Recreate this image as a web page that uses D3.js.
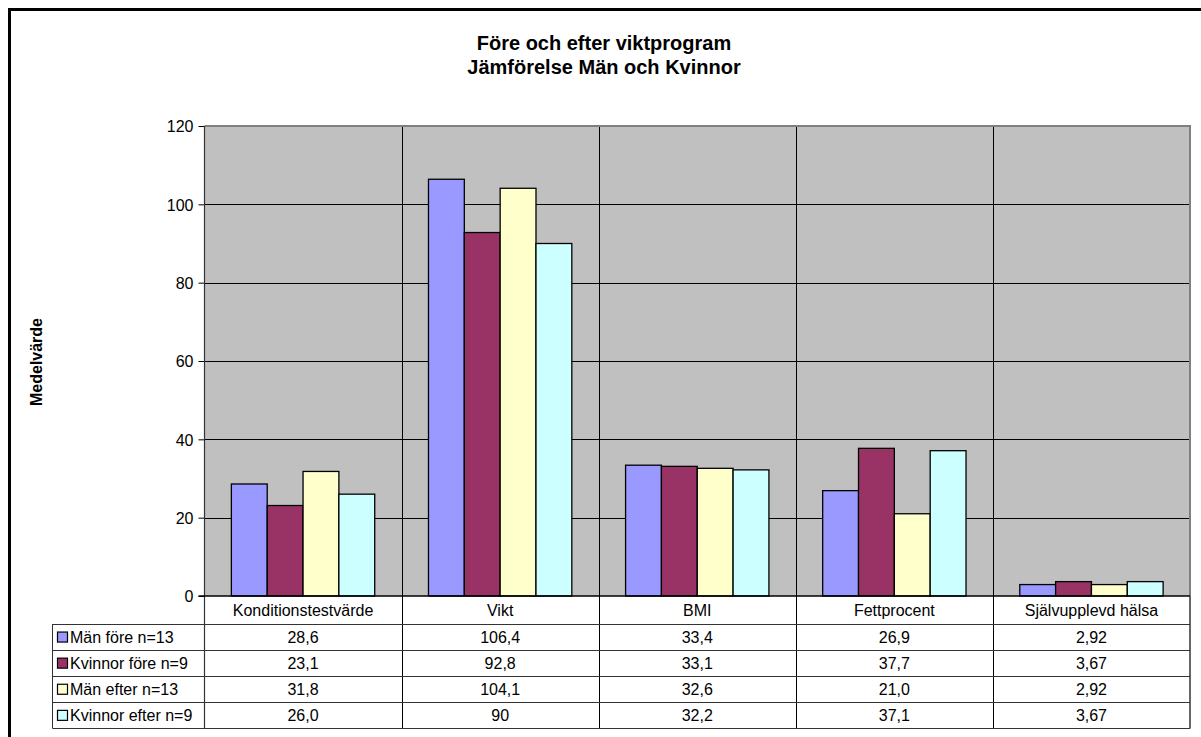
<!DOCTYPE html>
<html>
<head>
<meta charset="utf-8">
<script src="https://cdn.jsdelivr.net/npm/d3@7"></script>
<style>
  html, body { margin: 0; padding: 0; background: #fff; }
  svg { display: block; font-family: "Liberation Sans", Arial, Helvetica, sans-serif; }
</style>
</head>
<body>
<svg id="chart" width="1201" height="737"></svg>
<script>
// Mean values before and after the weight programme, men vs women
const categories = ["Konditionstestvärde", "Vikt", "BMI", "Fettprocent", "Självupplevd hälsa"];
const seriesNames = ["Män före n=13", "Kvinnor före n=9", "Män efter n=13", "Kvinnor efter n=9"];
const manFore     = [28.6, 106.4, 33.4, 26.9, 2.92];
const kvinnorFore = [23.1, 92.8, 33.1, 37.7, 3.67];
const manEfter    = [31.8, 104.1, 32.6, 21.0, 2.92];
const kvinnorEfter = [26.0, 90, 32.2, 37.1, 3.67];
// Text shown in the data table under the plot
const tableLabels = [
  ["28,6", "106,4", "33,4", "26,9", "2,92"],
  ["23,1", "92,8", "33,1", "37,7", "3,67"],
  ["31,8", "104,1", "32,6", "21,0", "2,92"],
  ["26,0", "90", "32,2", "37,1", "3,67"]
];
const yTicks = [0, 20, 40, 60, 80, 100, 120];
const seriesColors = ["#9999FF", "#993366", "#FFFFCC", "#CCFFFF"];
const titleLines = ["Före och efter viktprogram", "Jämförelse Män och Kvinnor"];
const yTitle = "Medelvärde";

const seriesValues = [manFore, kvinnorFore, manEfter, kvinnorEfter];

const svg = d3.select("#chart");

// layout
const plotLeft = 204.5, plotRight = 1190, plotTop = 126, plotBottom = 596;
const tableLeft = 52.5;
const catRowBottom = 624;
const rowH = 26.1;
const tableBottom = catRowBottom + rowH * 4;

// outer frame
svg.append("rect")
  .attr("x", 9.5).attr("y", 9.5)
  .attr("width", 1300).attr("height", 900)
  .attr("fill", "#fff").attr("stroke", "#000").attr("stroke-width", 3);

// title
const title = svg.append("text")
  .attr("text-anchor", "middle")
  .attr("font-weight", "bold")
  .attr("font-size", 20)
  .attr("fill", "#000");
titleLines.forEach((t, i) => {
  title.append("tspan").attr("x", 604).attr("y", 49.5 + i * 24).text(t);
});

// scales
const x0 = d3.scaleBand().domain(categories).range([plotLeft, plotRight]).paddingInner(0).paddingOuter(0);
const x1 = d3.scaleBand().domain(d3.range(seriesNames.length)).range([0, x0.bandwidth()])
  .paddingInner(0).paddingOuter(0.75);
const y = d3.scaleLinear().domain([0, 120]).range([plotBottom, plotTop]);

// plot background
svg.append("rect")
  .attr("x", plotLeft).attr("y", plotTop)
  .attr("width", plotRight - plotLeft).attr("height", plotBottom - plotTop)
  .attr("fill", "#C0C0C0");

// horizontal gridlines
svg.append("g").selectAll("line")
  .data(yTicks.filter(d => d > 0 && d < 120))
  .join("line")
  .attr("x1", plotLeft).attr("x2", plotRight)
  .attr("y1", d => Math.round(y(d)) + 0.5).attr("y2", d => Math.round(y(d)) + 0.5)
  .attr("stroke", "#000").attr("stroke-width", 1);

// vertical category dividers through plot and table
svg.append("g").selectAll("line")
  .data(categories.slice(1))
  .join("line")
  .attr("x1", d => Math.round(x0(d)) + 0.5).attr("x2", d => Math.round(x0(d)) + 0.5)
  .attr("y1", plotTop).attr("y2", tableBottom)
  .attr("stroke", "#000").attr("stroke-width", 1);

// bars
const barGroups = svg.append("g").selectAll("g")
  .data(categories)
  .join("g")
  .attr("transform", d => `translate(${x0(d)},0)`);
barGroups.selectAll("rect")
  .data((c, ci) => seriesValues.map((vals, si) => ({ si, v: vals[ci] })))
  .join("rect")
  .attr("x", d => x1(d.si))
  .attr("y", d => y(d.v))
  .attr("width", x1.bandwidth())
  .attr("height", d => y(0) - y(d.v))
  .attr("fill", d => seriesColors[d.si])
  .attr("stroke", "#000").attr("stroke-width", 1.3);

// plot border (top and right)
svg.append("path")
  .attr("d", `M${plotLeft},${plotTop}H${plotRight}V${plotBottom}`)
  .attr("fill", "none").attr("stroke", "#808080").attr("stroke-width", 2);

// y axis
const yAxis = d3.axisLeft(y).tickValues(yTicks).tickSize(6).tickPadding(5);
const yg = svg.append("g")
  .attr("transform", `translate(${plotLeft},0)`)
  .call(yAxis);
yg.select(".domain").remove();
yg.selectAll(".tick line").attr("stroke", "#000");
yg.selectAll(".tick text")
  .attr("font-size", 16).attr("font-family", "Liberation Sans, Arial, sans-serif")
  .attr("fill", "#000").attr("dy", "0.36em");

// vertical axis line, running down through the table
svg.append("line")
  .attr("x1", plotLeft).attr("x2", plotLeft)
  .attr("y1", plotTop).attr("y2", tableBottom)
  .attr("stroke", "#333").attr("stroke-width", 1.2);

// x axis baseline
svg.append("line")
  .attr("x1", plotLeft - 6).attr("x2", plotRight)
  .attr("y1", plotBottom).attr("y2", plotBottom)
  .attr("stroke", "#000").attr("stroke-width", 1.3);

// y axis title
svg.append("text")
  .attr("transform", `translate(42,362) rotate(-90)`)
  .attr("text-anchor", "middle")
  .attr("font-weight", "bold").attr("font-size", 16)
  .attr("fill", "#000")
  .text(yTitle);

// data table
const tbl = svg.append("g");
// category labels
tbl.selectAll("text.cat")
  .data(categories)
  .join("text")
  .attr("class", "cat")
  .attr("x", d => x0(d) + x0.bandwidth() / 2)
  .attr("y", (plotBottom + catRowBottom) / 2 + 6)
  .attr("text-anchor", "middle").attr("font-size", 16).attr("fill", "#000")
  .text(d => d);

// row lines
const rowLines = d3.range(seriesNames.length + 1).map(i => catRowBottom + i * rowH);
tbl.selectAll("line.row")
  .data(rowLines)
  .join("line")
  .attr("class", "row")
  .attr("x1", tableLeft).attr("x2", plotRight)
  .attr("y1", d => Math.round(d) + 0.5).attr("y2", d => Math.round(d) + 0.5)
  .attr("stroke", "#333").attr("stroke-width", 1);

// left and right table edges
tbl.append("line")
  .attr("x1", tableLeft).attr("x2", tableLeft)
  .attr("y1", catRowBottom).attr("y2", tableBottom)
  .attr("stroke", "#333").attr("stroke-width", 1);
tbl.append("line")
  .attr("x1", plotRight).attr("x2", plotRight)
  .attr("y1", plotBottom).attr("y2", tableBottom)
  .attr("stroke", "#333").attr("stroke-width", 1.5);

// legend keys and series names
const rows = tbl.selectAll("g.srow")
  .data(seriesNames)
  .join("g")
  .attr("class", "srow")
  .attr("transform", (d, i) => `translate(0,${catRowBottom + i * rowH})`);
rows.append("rect")
  .attr("x", 57.5).attr("y", rowH / 2 - 5)
  .attr("width", 10).attr("height", 10)
  .attr("fill", (d, i) => seriesColors[i])
  .attr("stroke", "#000").attr("stroke-width", 1.2);
rows.append("text")
  .attr("x", 70).attr("y", rowH / 2 + 6)
  .attr("font-size", 16).attr("fill", "#000")
  .text(d => d);
rows.selectAll("text.val")
  .data((d, i) => tableLabels[i].map((t, ci) => ({ t, c: categories[ci] })))
  .join("text")
  .attr("class", "val")
  .attr("x", d => x0(d.c) + x0.bandwidth() / 2)
  .attr("y", rowH / 2 + 6)
  .attr("text-anchor", "middle").attr("font-size", 16).attr("fill", "#000")
  .text(d => d.t);
</script>
</body>
</html>
